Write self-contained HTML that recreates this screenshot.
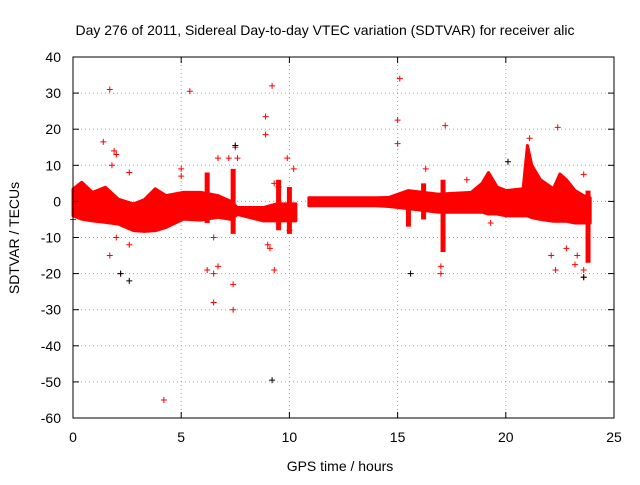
<!DOCTYPE html>
<html><head><meta charset="utf-8"><style>
body{margin:0;background:#fff}
svg text{font-family:"Liberation Sans",sans-serif;font-size:14px;fill:#000}
</style></head><body>
<svg id="chart" width="640" height="480" viewBox="0 0 640 480" xmlns="http://www.w3.org/2000/svg">
<rect width="640" height="480" fill="#fff"/>
<text x="325" y="35" text-anchor="middle">Day 276 of 2011, Sidereal Day-to-day VTEC variation (SDTVAR) for receiver alic</text>
<g id="grid"></g>
<g id="marks"></g>
<g id="axes"></g>
<text x="340" y="471" text-anchor="middle">GPS time / hours</text>
<text x="19" y="238" text-anchor="middle" transform="rotate(-90 19 238)">SDTVAR / TECUs</text>
</svg>
<script>
const xTicks=[0,5,10,15,20,25];
const yTicks=[40,30,20,10,0,-10,-20,-30,-40,-50,-60];
const bandT=[0,0.4,0.9,1.5,2.1,2.8,3.3,3.8,4.3,5.1,5.9,6.7,7.3,7.6,8.8,9.4,10.3];
const bandLo=[-4,-4.9,-5.4,-5.8,-6.3,-8.1,-8.3,-8.1,-7.2,-4.9,-5.2,-4.4,-5,-3.6,-5.4,-5.4,-5.4];
const bandHi=[3.4,5.3,2.5,3.9,0.6,-0.7,0.5,3.5,1.6,2.5,2.5,1.6,0,-1.7,-1.7,-0.7,-0.7];
const band2T=[10.9,12,13,14,14.6,15.5,16.9,18.4,18.9,19.2,19.6,20,20.8,21.0,21.2,21.6,22.2,22.5,22.8,23.2,23.6,23.9];
const band2Lo=[-1.2,-1.2,-1.2,-1.2,-1.4,-2,-3,-3,-3,-3.5,-3.5,-4,-4,-4,-4.5,-5,-5.5,-5.5,-5.5,-6,-6,-6];
const band2Hi=[1,1,1,1,1.1,3,2,2.5,5,8,4,3,3.5,15.5,10,6,3.5,7.6,6,3,1.6,1];
const spikeT=[6.2,7.4,9.5,10,15.5,16.2,17.1,23.8];
const spikeLo=[-6,-9,-8,-9,-7,-5,-14,-17];
const spikeHi=[8,9,6,4,3,5,6,3];
const outT=[1.4,1.7,1.8,1.9,2.0,1.7,2.0,2.2,2.6,2.6,4.2,5.4,5.0,5.0,6.2,6.5,6.5,6.7,6.7,6.5,7.4,7.4,7.5,7.6,7.2,8.9,8.9,9.2,9.3,9.1,9.0,9.9,10.0,10.2,15.0,15.0,15.1,16.3,17.2,17.0,17.0,18.2,19.3,21.1,22.4,22.3,22.1,22.8,23.2,23.3,23.6,23.6,23.6,0,9.5,9.3];
const outV=[16.5,31,10,14,13,-15,-10,-20,-12,8,-55,30.5,7,9,-19,-20,-28,12,-18,-10,-30,-23,15,12,12,23.5,18.5,32,-19,-13,-12,12,-8,9,22.5,16,34,9,21,-18,-20,6,-6,17.5,20.5,-19,-15,-13,-17.5,-15,-19,-21,7.5,-5,4,5];
const blkT=[9.2,2.6,2.2,15.6,20.1,23.6,7.5];
const blkV=[-49.5,-22,-20,-20,11,-21,15.5];
const X0=73,X1=614,Y0=57,Y1=418;
const sx=v=>X0+(v-0)/(25-0)*(X1-X0);
const sy=v=>Y0+(40-v)/(100)*(Y1-Y0);
const NS="http://www.w3.org/2000/svg";
function mk(tag,attrs,parent){const e=document.createElementNS(NS,tag);for(const k in attrs)e.setAttribute(k,attrs[k]);parent.appendChild(e);return e;}
const grid=document.getElementById('grid'),axes=document.getElementById('axes'),marks=document.getElementById('marks');
xTicks.forEach(t=>{
 if(t>0&&t<25){const l=mk('line',{x1:sx(t),x2:sx(t),y1:Y0,y2:Y1,stroke:'#a0a0a0','stroke-dasharray':'1,3'},grid);
 }
 const tx=mk('text',{x:sx(t),y:Y1+24,'text-anchor':'middle'},axes);tx.textContent=t;
 
 mk('line',{x1:sx(t),x2:sx(t),y1:Y1,y2:Y1-6,stroke:'#000'},axes);
 mk('line',{x1:sx(t),x2:sx(t),y1:Y0,y2:Y0+6,stroke:'#000'},axes);
});
yTicks.forEach(t=>{
 if(t<40&&t>-60){const l=mk('line',{x1:X0,x2:X1,y1:sy(t),y2:sy(t),stroke:'#a0a0a0','stroke-dasharray':'1,3'},grid);
 }
 const tx=mk('text',{x:X0-12,y:sy(t)+5,'text-anchor':'end'},axes);tx.textContent=t;
 
 mk('line',{x1:X0,x2:X0+6,y1:sy(t),y2:sy(t),stroke:'#000'},axes);
 mk('line',{x1:X1,x2:X1-6,y1:sy(t),y2:sy(t),stroke:'#000'},axes);
});
const fr=mk('rect',{x:X0,y:Y0,width:X1-X0,height:Y1-Y0,fill:'none',stroke:'#000'},axes);

function bandPath(T,L,H){let d='';T.forEach((t,i)=>{d+=(i?'L':'M')+sx(t)+','+sy(H[i]);});for(let i=T.length-1;i>=0;i--)d+='L'+sx(T[i])+','+sy(L[i]);return d+'Z';}
const b1=mk('path',{d:bandPath(bandT,bandLo,bandHi),fill:'#f00',stroke:'#f00','stroke-width':3,'stroke-linejoin':'round'},marks);

const b2=mk('path',{d:bandPath(band2T,band2Lo,band2Hi),fill:'#f00',stroke:'#f00','stroke-width':3,'stroke-linejoin':'round'},marks);

function plus(x,y,c){const p=mk('path',{d:`M${x-3},${y}h6M${x},${y-3}v6`,stroke:c,'stroke-width':1},marks);return p;}
spikeT.forEach((t,i)=>{
 const s=mk('line',{x1:sx(t),x2:sx(t),y1:sy(spikeLo[i]),y2:sy(spikeHi[i]),stroke:'#f00','stroke-width':5},marks);
 
});
outT.forEach((t,i)=>{const p=plus(sx(t),sy(outV[i]),'#f00');
 });
blkT.forEach((t,i)=>{const p=plus(sx(t),sy(blkV[i]),'#000');
 });
</script>
</body></html>
